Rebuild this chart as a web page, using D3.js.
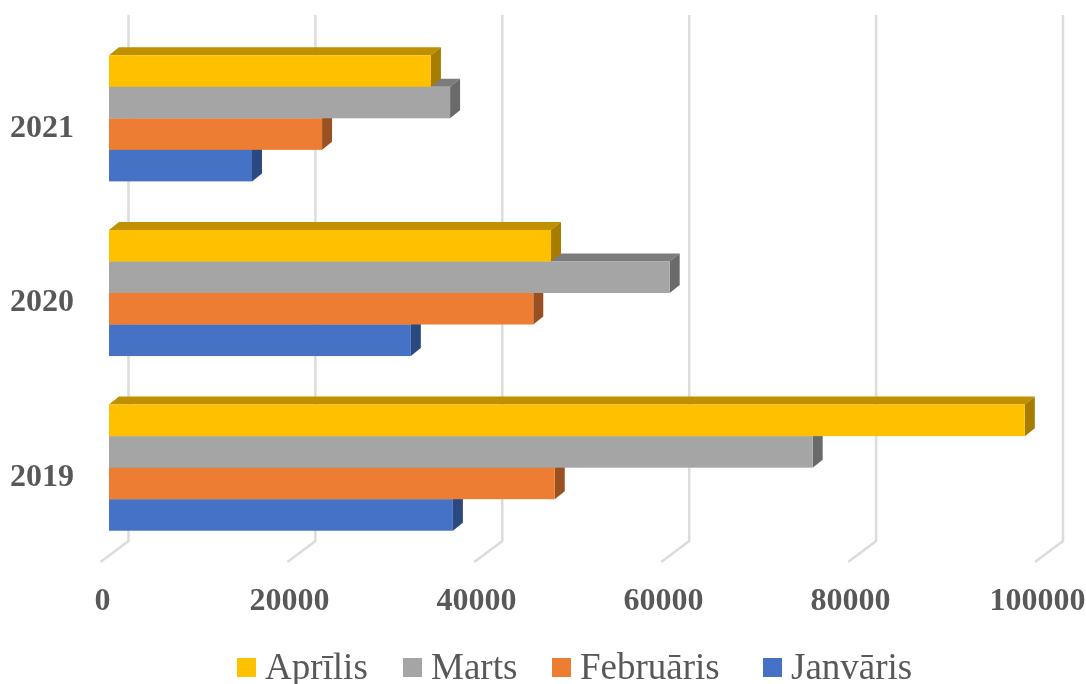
<!DOCTYPE html>
<html>
<head>
<meta charset="utf-8">
<script src="https://cdn.jsdelivr.net/npm/d3@7"></script>
<style>
  html, body { margin: 0; padding: 0; background: #fff; }
  svg { display: block; }
  text { font-family: "Liberation Serif", serif; fill: #595959; }
</style>
</head>
<body>
<svg id="chart" width="1086" height="684"></svg>
<script>
const years = ["2021", "2020", "2019"];
const months = ["Janvāris", "Februāris", "Marts", "Aprīlis"];
const legendOrder = ["Aprīlis", "Marts", "Februāris", "Janvāris"];
const xTicks = [0, 20000, 40000, 60000, 80000, 100000];

// viens masīvs katram mēnesim, secība kā years
const janvaris = [15300, 32300, 36800];
const februaris = [22800, 45400, 47700];
const marts = [36500, 60000, 75300];
const aprilis = [34450, 47300, 98000];
const seriesValues = [janvaris, februaris, marts, aprilis];

const frontColors = ["#4472C4", "#ED7D31", "#A5A5A5", "#FFC000"];
const topColors = ["#33558F", "#B25E25", "#7C7C7C", "#BF9000"];
const sideColors = ["#2C4A80", "#9A5120", "#6B6B6B", "#A67D00"];

const svg = d3.select("#chart");

// neliels izplūdums, attēls oriģinālā ir palielināts
svg.append("defs").append("filter")
  .attr("id", "soft")
  .attr("x", 0).attr("y", 0).attr("width", 1).attr("height", 1)
  .attr("filterUnits", "userSpaceOnUse")
  .attr("width", 1086).attr("height", 684)
  .append("feGaussianBlur")
  .attr("stdDeviation", 0.5);

const root = svg.append("g").attr("filter", "url(#soft)");

// aizmugurējā plakne (režģis) un priekšējā plakne (stabiņi)
const xBack = d3.scaleLinear().domain([0, 100000]).range([128.5, 1063]);
const xFront = d3.scaleLinear().domain([0, 100000]).range([109, 1043.5]);
const y = d3.scaleBand().domain(years).range([31, 555]).paddingInner(0.278).paddingOuter(0.139);
const yMonth = d3.scaleBand().domain(months.slice().reverse()).range([0, y.bandwidth()]);

const depthX = 10, depthY = 8;
const gridTop = 15, gridBottom = 541, floorX = 28, floorY = 21;

// režģis
const grid = root.append("g")
  .attr("fill", "none")
  .attr("stroke", "#DCDCDC")
  .attr("stroke-width", 2.5);

grid.selectAll("path")
  .data(xTicks)
  .enter()
  .append("path")
  .attr("d", d => `M ${xBack(d)} ${gridTop} V ${gridBottom} L ${xBack(d) - floorX} ${gridBottom + floorY}`);

// stabiņi: janvāris pirmais, lai aprīlis paliek virsū
months.forEach((month, m) => {
  const g = root.append("g").attr("class", "series");
  const bars = g.selectAll("g")
    .data(years.map((yr, i) => ({ yr, value: seriesValues[m][i] })))
    .enter()
    .append("g");

  const top = d => y(d.yr) + yMonth(month);
  const h = yMonth.bandwidth();

  bars.append("polygon")
    .attr("fill", topColors[m])
    .attr("points", d => {
      const x0 = xFront(0), x1 = xFront(d.value), t = top(d);
      return [[x0, t], [x0 + depthX, t - depthY], [x1 + depthX, t - depthY], [x1, t]].join(" ");
    });

  bars.append("polygon")
    .attr("fill", sideColors[m])
    .attr("points", d => {
      const x1 = xFront(d.value), t = top(d);
      return [[x1, t], [x1 + depthX, t - depthY], [x1 + depthX, t + h - depthY], [x1, t + h]].join(" ");
    });

  bars.append("rect")
    .attr("fill", frontColors[m])
    .attr("x", xFront(0))
    .attr("y", top)
    .attr("width", d => xFront(d.value) - xFront(0))
    .attr("height", h);
});

// x ass
const xLabel = d3.scaleLinear().domain([0, 100000]).range([102, 1037]);
const xAxis = root.append("g")
  .attr("transform", "translate(0,582)")
  .call(d3.axisBottom(xLabel).tickValues(xTicks).tickFormat(d3.format("d")).tickSize(0));
xAxis.select(".domain").remove();
xAxis.selectAll("text")
  .attr("y", 28)
  .attr("dy", 0)
  .style("font-family", '"Liberation Serif", serif')
  .style("font-size", "32px")
  .style("font-weight", "bold")
  .attr("fill", "#595959");

// y ass
const yAxis = root.append("g")
  .attr("transform", "translate(74,8)")
  .call(d3.axisLeft(y).tickSize(0).tickPadding(0));
yAxis.select(".domain").remove();
yAxis.selectAll("text")
  .attr("dy", "0.32em")
  .style("font-family", '"Liberation Serif", serif')
  .style("font-size", "32px")
  .style("font-weight", "bold")
  .attr("fill", "#595959");

// leģenda
const legendX = d3.scaleOrdinal().domain(legendOrder).range([237, 403, 552, 763]);
const legend = root.append("g");
legendOrder.forEach(name => {
  const m = months.indexOf(name);
  legend.append("rect")
    .attr("x", legendX(name))
    .attr("y", 658)
    .attr("width", 19)
    .attr("height", 19)
    .attr("fill", frontColors[m]);
  legend.append("text")
    .attr("x", legendX(name) + 28)
    .attr("y", 679)
    .style("font-size", "37px")
    .text(name);
});
</script>
</body>
</html>
